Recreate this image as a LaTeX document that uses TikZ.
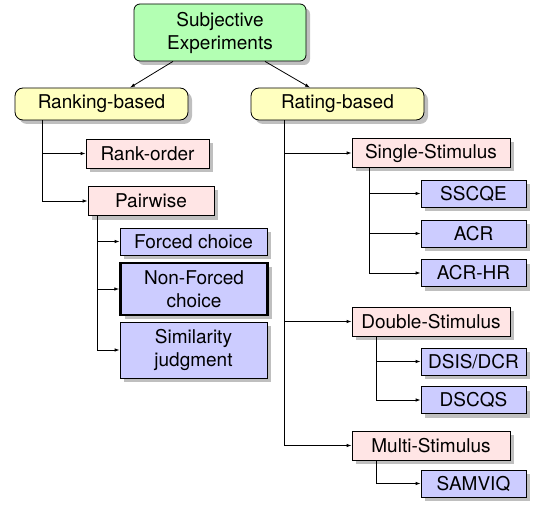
\documentclass[tikz,border=0pt]{standalone}
\usepackage{fontspec}
\setmainfont{TeX Gyre Heros}
\usepackage{xcolor}
\usepackage{tikz}
\usetikzlibrary{shadows,arrows.meta}
\definecolor{topgreen}{RGB}{179,255,179}
\definecolor{groupyellow}{RGB}{255,255,191}
\definecolor{methodpink}{RGB}{255,229,229}
\definecolor{leafblue}{RGB}{204,204,255}

\begin{document}
\begin{tikzpicture}[x=1pt,y=-1pt,
  font=\fontsize{19}{23}\selectfont,
  box/.style={draw, inner sep=0pt, align=center, line width=0.8pt, drop shadow={shadow xshift=4pt,shadow yshift=-4pt}},
  topbox/.style={box, fill=topgreen, rounded corners=6pt, minimum width=172pt, minimum height=57pt},
  groupbox/.style={box, fill=groupyellow, rounded corners=8pt, minimum width=173pt, minimum height=32pt},
  methodbox/.style={box, fill=methodpink, minimum height=29pt},
  leafbox/.style={box, fill=leafblue, minimum height=27pt},
  link/.style={line width=0.8pt, -{Latex[length=5pt,width=3.5pt]}}]
\useasboundingbox (0,0) rectangle (535,505);
\node[topbox] (Top) at (220,32.5) {Subjective\\Experiments};
\node[groupbox] (Ranking) at (101.5,104) {Ranking-based};
\node[groupbox] (Rating) at (337.5,104) {Rating-based};
\node[methodbox, minimum width=123pt] (RankOrder) at (147.5,153.5) {Rank-order};
\node[methodbox, minimum width=126pt] (Pairwise) at (151,201) {Pairwise};
\node[leafbox, minimum width=147pt] (Forced) at (193.5,241.5) {Forced choice};
\node[leafbox, minimum width=147pt, minimum height=52pt, line width=2.5pt] (NonForced) at (194,289) {Non-Forced\\choice};
\node[leafbox, minimum width=147pt, minimum height=56pt] (Similarity) at (193.5,350) {Similarity\\judgment};
\node[methodbox, minimum width=158pt] (Single) at (431,153) {Single-Stimulus};
\node[leafbox, minimum width=105pt] (SSCQE) at (473.5,193.5) {SSCQE};
\node[leafbox, minimum width=105pt] (ACR) at (473.5,233.5) {ACR};
\node[leafbox, minimum width=105pt] (ACRHR) at (473.5,273) {ACR-HR};
\node[methodbox, minimum width=158pt] (Double) at (431,321.5) {Double-Stimulus};
\node[leafbox, minimum width=105pt] (DSIS) at (473.5,361.5) {DSIS/DCR};
\node[leafbox, minimum width=105pt] (DSCQS) at (473.5,400) {DSCQS};
\node[methodbox, minimum width=158pt] (Multi) at (431,445.5) {Multi-Stimulus};
\node[leafbox, minimum width=105pt] (SAMVIQ) at (473.5,483.5) {SAMVIQ};
\draw[link] ([xshift=-47pt]Top.south) -- ([xshift=28.5pt]Ranking.north);
\draw[link] ([xshift=45pt]Top.south) -- ([xshift=-27.5pt]Rating.north);
\foreach \n in {RankOrder,Pairwise}\draw[link] ([xshift=28pt]Ranking.south west) |- (\n.west);
\foreach \n in {Forced,NonForced,Similarity}\draw[link] ([xshift=10pt]Pairwise.south west) |- (\n.west);
\foreach \n in {Single,Double,Multi}\draw[link] ([xshift=34pt]Rating.south west) |- (\n.west);
\foreach \n in {SSCQE,ACR,ACRHR}\draw[link] ([xshift=18pt]Single.south west) |- (\n.west);
\foreach \n in {DSIS,DSCQS}\draw[link] ([xshift=25pt]Double.south west) |- (\n.west);
\draw[link] ([xshift=25pt]Multi.south west) |- (SAMVIQ.west);
\end{tikzpicture}
\end{document}
